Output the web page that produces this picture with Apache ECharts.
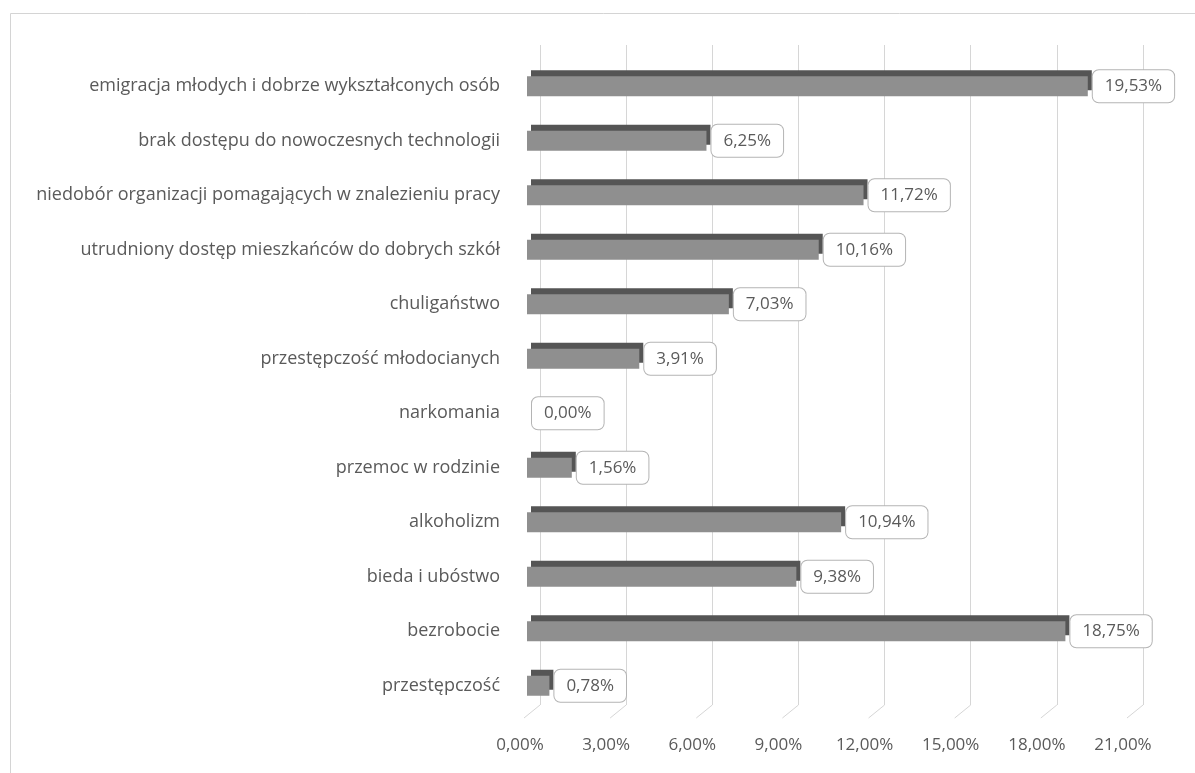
<!DOCTYPE html>
<html>
<head>
<meta charset="utf-8">
<script src="https://cdn.jsdelivr.net/npm/echarts@6/dist/echarts.min.js"></script>
<style>
html,body{margin:0;padding:0;background:#fff;}
#c{width:1195px;height:773px;}
</style>
</head>
<body>
<div id="c"></div>
<script>
var categories = [
  'emigracja młodych i dobrze wykształconych osób',
  'brak dostępu do nowoczesnych technologii',
  'niedobór organizacji pomagających w znalezieniu pracy',
  'utrudniony dostęp mieszkańców do dobrych szkół',
  'chuligaństwo',
  'przestępczość młodocianych',
  'narkomania',
  'przemoc w rodzinie',
  'alkoholizm',
  'bieda i ubóstwo',
  'bezrobocie',
  'przestępczość'
];
var values = [19.53, 6.25, 11.72, 10.16, 7.03, 3.91, 0.00, 1.56, 10.94, 9.38, 18.75, 0.78];
var tickValues = [0, 3, 6, 9, 12, 15, 18, 21];

function pct(v){ return v.toFixed(2).replace('.', ',') + '%'; }

var FONT = 'Open Sans';
var chart = echarts.init(document.getElementById('c'));
var option = {
  backgroundColor: '#fff',
  animation: false,
  textStyle: { fontFamily: FONT },
  graphic: [{
    type: 'rect', left: 8, top: 11, z: -10,
    shape: { width: 1200, height: 800 },
    style: { fill: 'none', stroke: '#d4d4d4', lineWidth: 1 }
  }],
  grid: [
    { left: 540, width: 603, top: 45, bottom: 68 },
    { left: 527, width: 603, top: 59, bottom: 60 }
  ],
  xAxis: [
    {
      gridIndex: 0, type: 'value', min: 0, max: 21, interval: 3,
      axisLine: { show: false }, axisTick: { show: false },
      splitLine: { show: true, lineStyle: { color: '#d6d6d6', width: 1 } },
      axisLabel: {
        margin: 32, color: '#5a5a5a', fontSize: 17, fontFamily: FONT,
        padding: [0, 40, 0, 0],
        formatter: function(v){ return pct(v); }
      }
    },
    {
      gridIndex: 1, type: 'value', min: 0, max: 21, interval: 3, show: false
    }
  ],
  yAxis: [
    { gridIndex: 0, type: 'category', data: categories, inverse: true, show: false },
    {
      gridIndex: 1, type: 'category', data: categories, inverse: true,
      axisLine: { show: false }, axisTick: { show: false },
      axisLabel: { margin: 27, color: '#5a5a5a', fontSize: 18, fontFamily: FONT }
    }
  ],
  series: [{
    type: 'bar',
    xAxisIndex: 1, yAxisIndex: 1,
    data: values,
    barWidth: 20,
    itemStyle: {
      color: '#8f8f8f',
      shadowColor: '#555555',
      shadowBlur: 0,
      shadowOffsetX: 4,
      shadowOffsetY: -6
    },
    label: {
      show: true, position: 'right', distance: 5,
      color: '#5a5a5a', fontSize: 17, fontFamily: FONT,
      backgroundColor: '#fff',
      borderColor: '#b4b4b4', borderWidth: 1, borderRadius: 6,
      padding: [8, 12, 7, 12],
      formatter: function(p){ return pct(p.value); }
    }
  }]
};
chart.setOption(option);

// floor lines of the 3D back plane, placed through the axis scale
var floor = [];
var bottomY = 773 - 68;
tickValues.forEach(function(t){
  var x = chart.convertToPixel({ xAxisIndex: 0 }, t);
  floor.push({
    type: 'line', z: -5,
    shape: { x1: x, y1: bottomY, x2: x - 16, y2: bottomY + 13 },
    style: { stroke: '#d6d6d6', lineWidth: 1 }
  });
});
chart.setOption({ graphic: option.graphic.concat(floor) });
</script>
</body>
</html>
